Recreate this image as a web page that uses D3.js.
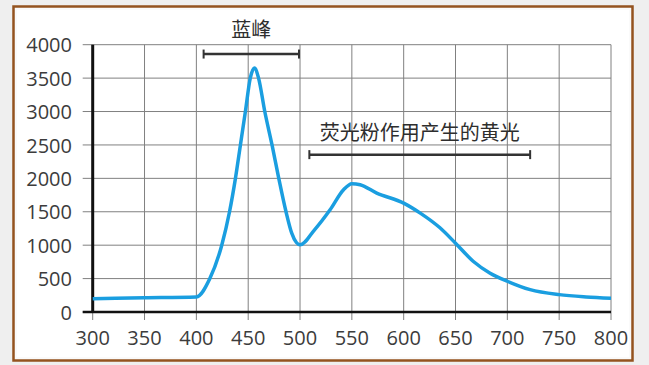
<!DOCTYPE html>
<html>
<head>
<meta charset="utf-8">
<script src="https://cdn.jsdelivr.net/npm/d3@7"></script>
<style>
  html, body { margin: 0; padding: 0; background: #efefef; }
  svg { display: block; }
</style>
</head>
<body>
<div id="chart"></div>
<script>
// spectrum
const wavelength = [300, 350, 400, 413, 424.5, 432, 437.7, 442.5, 447.3, 452, 456, 460, 466, 473, 479.5, 486.5, 492, 496.5, 500,
  514, 529, 542, 550, 558, 574, 600, 616, 635, 650, 667, 683, 700, 722, 750, 776, 800];
const intensity = [200, 212, 225, 500, 1000, 1500, 2000, 2500, 3000, 3500, 3650, 3500, 3000, 2500, 2000, 1500, 1180, 1040, 1005,
  1230, 1530, 1830, 1920, 1905, 1780, 1630, 1480, 1260, 1030, 760, 585, 460, 335, 260, 225, 205];

const xTicks = [300, 350, 400, 450, 500, 550, 600, 650, 700, 750, 800];
const yTicks = [0, 500, 1000, 1500, 2000, 2500, 3000, 3500, 4000];

// annotation brackets: [from, to, level] in data units
const bracketLabels = ['蓝峰', '荧光粉作用产生的黄光'];
const bracketRanges = [[407, 499, 3860], [509, 722, 2355]];
const labelLevels = [4215, 2685];

const W = 649, H = 365;
const margin = { top: 44.7, right: 38, bottom: 53, left: 92.7 };

const svg = d3.select('#chart').append('svg')
  .attr('width', W)
  .attr('height', H);

// frame
svg.append('rect')
  .attr('x', 13.5).attr('y', 6.5)
  .attr('width', 619).attr('height', 354)
  .attr('fill', '#fafafa')
  .attr('stroke', '#94531f')
  .attr('stroke-width', 2.5);
svg.append('rect')
  .attr('x', 17).attr('y', 10)
  .attr('width', 612).attr('height', 347)
  .attr('fill', '#ffffff');

const x = d3.scaleLinear().domain([300, 800]).range([margin.left, W - margin.right]);
const y = d3.scaleLinear().domain([0, 4000]).range([H - margin.bottom, margin.top]);

const grid = svg.append('g');

grid.selectAll('.vgrid')
  .data(xTicks)
  .enter().append('line')
  .attr('x1', d => x(d)).attr('x2', d => x(d))
  .attr('y1', y(4000)).attr('y2', y(0) + 8)
  .attr('stroke', '#808080')
  .attr('stroke-width', 1);

grid.selectAll('.hgrid')
  .data(yTicks)
  .enter().append('line')
  .attr('x1', x(300) - 10).attr('x2', x(800))
  .attr('y1', d => y(d)).attr('y2', d => y(d))
  .attr('stroke', '#808080')
  .attr('stroke-width', 1);

// axes lines
svg.append('line')
  .attr('x1', x(300) - 10).attr('x2', x(800))
  .attr('y1', y(0)).attr('y2', y(0))
  .attr('stroke', '#111').attr('stroke-width', 2.5);
svg.append('line')
  .attr('x1', x(300)).attr('x2', x(300))
  .attr('y1', y(4000)).attr('y2', y(0) + 1)
  .attr('stroke', '#111').attr('stroke-width', 3);

// tick labels
svg.selectAll('.ylab')
  .data(yTicks)
  .enter().append('text')
  .attr('x', 72)
  .attr('y', d => y(d))
  .attr('dy', '0.38em')
  .attr('text-anchor', 'end')
  .attr('font-family', 'Open Sans, sans-serif')
  .attr('font-size', 20)
  .attr('fill', '#3c3c3c')
  .text(d => d);

svg.selectAll('.xlab')
  .data(xTicks)
  .enter().append('text')
  .attr('x', d => x(d))
  .attr('y', 344.5)
  .attr('text-anchor', 'middle')
  .attr('font-family', 'Open Sans, sans-serif')
  .attr('font-size', 20)
  .attr('fill', '#3c3c3c')
  .text(d => d);

// spectrum curve
const line = d3.line()
  .x(d => x(d[0]))
  .y(d => y(d[1]))
  .curve(d3.curveMonotoneX);

svg.append('path')
  .attr('d', line(wavelength.map((w, i) => [w, intensity[i]])))
  .attr('fill', 'none')
  .attr('stroke', '#1a9ee0')
  .attr('stroke-width', 3.5)
  .attr('stroke-linejoin', 'round');

// annotations
bracketRanges.forEach((r, i) => {
  const g = svg.append('g');
  g.append('line')
    .attr('x1', x(r[0])).attr('x2', x(r[1]))
    .attr('y1', y(r[2])).attr('y2', y(r[2]))
    .attr('stroke', '#333').attr('stroke-width', 2.5);
  [r[0], r[1]].forEach(v => {
    g.append('line')
      .attr('x1', x(v)).attr('x2', x(v))
      .attr('y1', y(r[2]) - 4.5).attr('y2', y(r[2]) + 4.5)
      .attr('stroke', '#333').attr('stroke-width', 2);
  });
  g.append('text')
    .attr('x', x((r[0] + r[1]) / 2))
    .attr('y', y(labelLevels[i]))
    .attr('dy', '0.35em')
    .attr('text-anchor', 'middle')
    .attr('font-family', 'Noto Sans CJK SC, sans-serif')
    .attr('font-size', 20)
    .attr('fill', '#2e2e2e')
    .text(bracketLabels[i]);
});
</script>
</body>
</html>
